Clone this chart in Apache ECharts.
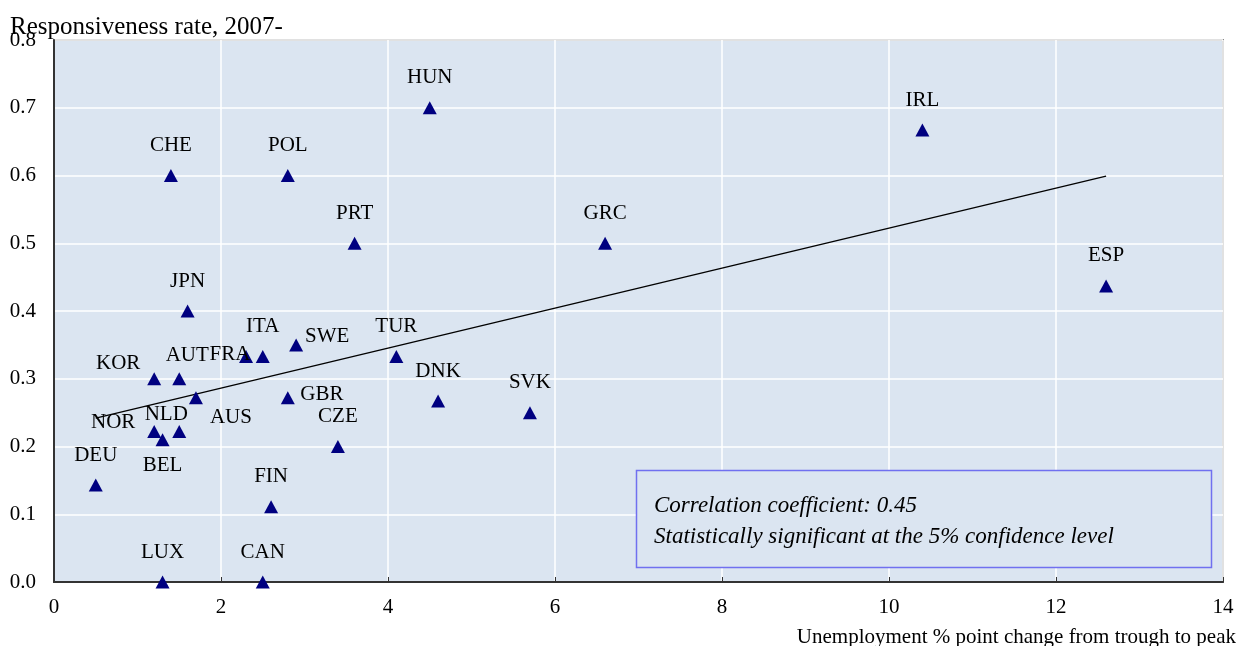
<!DOCTYPE html>
<html>
<head>
<meta charset="utf-8">
<script src="https://cdn.jsdelivr.net/npm/echarts@6/dist/echarts.min.js"></script>
<style>html,body{margin:0;padding:0;background:#fff}#c{width:1243px;height:646px}</style>
</head>
<body>
<div id="c"></div>
<script>
const countries = ['DEU','NOR','BEL','NLD','LUX','KOR','AUT','AUS','CHE','JPN','FRA','ITA','CAN','FIN','POL','GBR','SWE','CZE','PRT','TUR','HUN','DNK','SVK','GRC','IRL','ESP'];
const unemploymentChange = [0.5,1.2,1.3,1.5,1.3,1.2,1.5,1.7,1.4,1.6,2.3,2.5,2.5,2.6,2.8,2.8,2.9,3.4,3.6,4.1,4.5,4.6,5.7,6.6,10.4,12.6];
const responsiveness = [0.143,0.222,0.21,0.222,0.0,0.3,0.3,0.272,0.6,0.4,0.333,0.333,0.0,0.111,0.6,0.272,0.35,0.2,0.5,0.333,0.7,0.267,0.25,0.5,0.667,0.437];
const trendX = [0.5, 12.6];
const trendY = [0.242, 0.599];
const xTicks = [0,2,4,6,8,10,12,14];
const yTicks = [0.0,0.1,0.2,0.3,0.4,0.5,0.6,0.7,0.8];
const annotationLines = ['Correlation coefficient: 0.45','Statistically significant at the 5% confidence level'];

// label placement (layout only), offsets relative to marker centre
const labelOffsets = {
  FRA:[-16,-2], AUT:[8,-23], KOR:[-36,-15], SWE:[31,-8], AUS:[35,20],
  GBR:[34,-3], NOR:[-41,-9], NLD:[-13,-17], BEL:[0,26]
};

const font = 'Liberation Serif, Times New Roman, serif';
const chart = echarts.init(document.getElementById('c'));

const pts = countries.map((c,i)=>({
  name:c,
  value:[unemploymentChange[i], responsiveness[i]],
  label:{offset: labelOffsets[c] || [0,-30]}
}));

chart.setOption({
  animation:false,
  textStyle:{fontFamily:font},
  title:[
    {text:'Responsiveness rate, 2007-', left:5, top:10, textStyle:{fontFamily:font, fontSize:25, fontWeight:'normal', color:'#000'}},
    {text:'Unemployment % point change from trough to peak', right:2, top:622, textStyle:{fontFamily:font, fontSize:21, fontWeight:'normal', color:'#000'}}
  ],
  grid:{left:54, right:20, top:40, bottom:64, show:true, backgroundColor:'#DBE5F1', borderColor:'#888', borderWidth:2},
  xAxis:{type:'value', min:0, max:14, interval:2,
    axisLine:{show:true, onZero:false, lineStyle:{color:'#333', width:2}},
    axisTick:{show:true, inside:true, length:5, lineStyle:{color:'#333'}},
    axisLabel:{fontFamily:font, fontSize:21, color:'#000', margin:15, formatter:v=>xTicks.includes(v)?String(v):''},
    splitLine:{show:true, lineStyle:{color:'#fff', width:1.5}}
  },
  yAxis:{type:'value', min:0, max:0.8, interval:0.1,
    axisLine:{show:true, onZero:false, lineStyle:{color:'#333', width:2}},
    axisTick:{show:false},
    axisLabel:{fontFamily:font, fontSize:21, color:'#000', margin:18, formatter:v=>{const t=yTicks.find(k=>Math.abs(k-v)<1e-9);return t===undefined?'':t.toFixed(1);}},
    splitLine:{show:true, lineStyle:{color:'#fff', width:1.5}}
  },
  series:[
    {type:'line', data:trendX.map((x,i)=>[x,trendY[i]]), symbol:'none', lineStyle:{color:'#000', width:1.3}, silent:true, z:2},
    {type:'scatter', data:pts, symbol:'triangle', symbolSize:[14,13], itemStyle:{color:'#000080', opacity:1}, z:3,
      label:{show:true, position:'inside', formatter:p=>p.name, fontFamily:font, fontSize:21, color:'#000', textBorderWidth:0}}
  ],
  graphic:[
    {type:'rect', shape:{x:636.5, y:470.5, width:575, height:97}, style:{fill:'#DBE5F1', stroke:'#7070F0', lineWidth:1.5}, z:10},
    {type:'text', left:654, top:490, z:11, style:{text:annotationLines.join('\n'), font:'italic 23px '+font, fill:'#000', lineHeight:31}}
  ]
});
</script>
</body>
</html>
